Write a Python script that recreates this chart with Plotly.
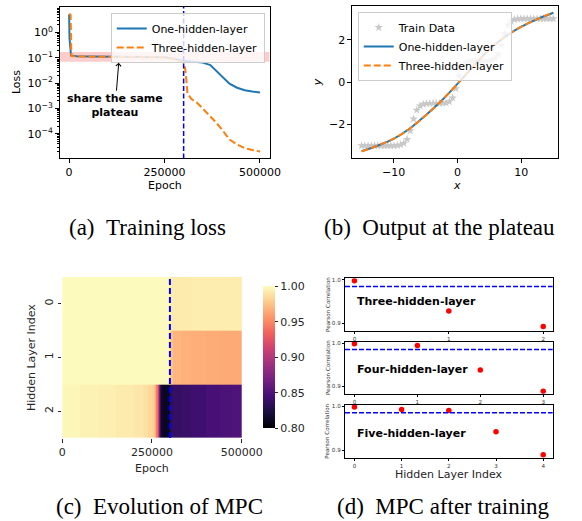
import plotly.graph_objects as go

# ---------------- (a) Training loss ----------------
epochs_one = [0, 1000, 5000, 20000, 60000, 100000, 150000, 200000, 250000, 270000, 290000,
              300000, 320000, 350000, 370000, 385000, 400000, 420000, 440000, 460000, 480000, 500000]
loss_one = [5.2, 0.6, 0.125, 0.115, 0.113, 0.112, 0.111, 0.109, 0.105, 0.095, 0.082,
            0.077, 0.072, 0.065, 0.052, 0.032, 0.018, 0.0095, 0.0066, 0.0053, 0.0047, 0.0043]
epochs_three = [0, 4000, 6000, 20000, 60000, 100000, 150000, 200000, 250000, 270000, 280000,
                290000, 300000, 305000, 310000, 320000, 335000, 350000, 370000, 385000, 400000,
                420000, 440000, 460000, 480000, 500000]
loss_three = [5.5, 5.0, 0.12, 0.113, 0.112, 0.111, 0.11, 0.108, 0.104, 0.093, 0.083,
              0.075, 0.068, 0.03, 0.004, 0.0024, 0.0017, 0.001, 0.0005, 0.00028, 0.00015,
              0.00006, 0.000038, 0.000027, 0.000023, 0.00002]
plateau_band = [0.07, 0.17]
plateau_epoch = 300000
loss_ticks = [1, 0.1, 0.01, 0.001, 0.0001]
loss_ticktext = ["10<sup>0</sup>", "10<sup>\u22121</sup>", "10<sup>\u22122</sup>",
                 "10<sup>\u22123</sup>", "10<sup>\u22124</sup>"]
epoch_ticks = [0, 250000, 500000]
epoch_ticktext = ["0", "250000", "500000"]

# ---------------- (b) Output at the plateau ----------------
train_x = [-15.0, -14.49, -13.98, -13.47, -12.97, -12.46, -11.95, -11.44, -10.93, -10.42,
           -9.92, -9.41, -8.90, -8.39, -7.88, -7.37, -6.86, -6.36, -5.85, -5.34,
           -4.83, -4.32, -3.81, -3.31, -2.80, -2.29, -1.78, -1.27, -0.76, -0.25,
           0.25, 0.76, 1.27, 1.78, 2.29, 2.80, 3.31, 3.81, 4.32, 4.83,
           5.34, 5.85, 6.36, 6.86, 7.37, 7.88, 8.39, 8.90, 9.41, 9.92,
           10.42, 10.93, 11.44, 11.95, 12.46, 12.97, 13.47, 13.98, 14.49, 15.0]
train_y = [-3.0, -3.0, -3.0, -3.0, -3.0, -3.0, -3.0, -3.0, -3.0, -3.0,
           -3.0, -2.99, -2.96, -2.89, -2.70, -2.29, -1.74, -1.32, -1.12, -1.04,
           -1.01, -1.0, -1.0, -1.0, -1.0, -0.99, -0.98, -0.92, -0.74, -0.30,
           0.30, 0.74, 0.92, 0.98, 0.99, 1.0, 1.0, 1.0, 1.0, 1.01,
           1.04, 1.12, 1.32, 1.74, 2.29, 2.70, 2.89, 2.96, 2.99, 3.0,
           3.0, 3.0, 3.0, 3.0, 3.0, 3.0, 3.0, 3.0, 3.0, 3.0]
fit_x = [-15, -12.5, -10, -7.5, -5, -2.5, 0, 2.5, 5, 7.5, 10, 12.5, 15]
fit_one = [-3.26, -3.0, -2.68, -2.2, -1.57, -0.88, -0.08, 0.75, 1.55, 2.15, 2.62, 2.98, 3.28]
fit_three = [-3.27, -3.0, -2.67, -2.2, -1.58, -0.88, -0.08, 0.76, 1.56, 2.16, 2.62, 2.98, 3.29]

# ---------------- (c) Evolution of MPC ----------------
hm_edges = [0, 50000, 100000, 150000, 200000, 225000, 240000, 250000, 255000, 260000, 263000,
            266000, 269000, 272000, 276000, 280000, 290000, 300000, 310000, 330000, 360000,
            400000, 440000, 470000, 500000]
mpc_layer0 = [0.999, 0.999, 0.999, 0.999, 0.999, 0.999, 0.999, 0.999, 0.999, 0.999, 0.999,
              0.999, 0.999, 0.999, 0.999, 0.999, 0.999, 0.992, 0.992, 0.992, 0.993, 0.993,
              0.993, 0.993]
mpc_layer1 = [0.999, 0.999, 0.999, 0.999, 0.999, 0.999, 0.999, 0.999, 0.999, 0.999, 0.999,
              0.999, 0.999, 0.999, 0.999, 0.999, 0.999, 0.974, 0.969, 0.967, 0.966, 0.965,
              0.964, 0.964]
mpc_layer2 = [0.997, 0.995, 0.994, 0.992, 0.99, 0.987, 0.984, 0.98, 0.975, 0.965, 0.94,
              0.905, 0.86, 0.83, 0.815, 0.81, 0.81, 0.835, 0.837, 0.839, 0.842, 0.846,
              0.848, 0.85]
layer_ticks = [0, 1, 2]
cbar_ticks = [0.80, 0.85, 0.90, 0.95, 1.00]
cbar_ticktext = ["0.80", "0.85", "0.90", "0.95", "1.00"]

# ---------------- (d) MPC after training ----------------
layers3 = [0, 1, 2]
mpc3 = [0.998, 0.928, 0.892]
layers4 = [0, 1, 2, 3]
mpc4 = [0.998, 0.994, 0.938, 0.889]
layers5 = [0, 1, 2, 3, 4]
mpc5 = [0.998, 0.992, 0.990, 0.942, 0.890]
mpc_threshold = 0.985
d_titles = ["Three-hidden-layer", "Four-hidden-layer", "Five-hidden-layer"]

W, H = 582, 521
def px(x):
    return x / W
def py(y):
    return 1 - y / H

BLUE = "#1f77b4"
ORANGE = "#ff7f0e"
FONT = "DejaVu Sans"
tickfont = dict(family=FONT, size=11, color="black")

fig = go.Figure()

# (a)
fig.add_trace(go.Scatter(x=[-25000, 525000, 525000, -25000], y=[plateau_band[0], plateau_band[0], plateau_band[1], plateau_band[1]],
                         fill="toself", fillcolor="rgba(255,0,0,0.2)", line=dict(width=0), mode="lines",
                         showlegend=False, hoverinfo="skip", xaxis="x", yaxis="y"))
fig.add_trace(go.Scatter(x=epochs_one, y=loss_one, mode="lines", name="One-hidden-layer",
                         line=dict(color=BLUE, width=2), xaxis="x", yaxis="y", legend="legend"))
fig.add_trace(go.Scatter(x=epochs_three, y=loss_three, mode="lines", name="Three-hidden-layer",
                         line=dict(color=ORANGE, width=2, dash="7px,3px"), xaxis="x", yaxis="y", legend="legend"))

# (b)
fig.add_trace(go.Scatter(x=train_x, y=train_y, mode="markers", name="Train Data",
                         marker=dict(symbol="star", size=6.5, color="#c8c8c8", line=dict(width=0)),
                         xaxis="x2", yaxis="y2", legend="legend2"))
fig.add_trace(go.Scatter(x=fit_x, y=fit_one, mode="lines", name="One-hidden-layer", line_shape="spline",
                         line=dict(color=BLUE, width=2), xaxis="x2", yaxis="y2", legend="legend2"))
fig.add_trace(go.Scatter(x=fit_x, y=fit_three, mode="lines", name="Three-hidden-layer", line_shape="spline",
                         line=dict(color=ORANGE, width=2, dash="7px,3px"), xaxis="x2", yaxis="y2", legend="legend2"))

# (c)
fig.add_trace(go.Heatmap(x=hm_edges, y=layer_ticks, z=[mpc_layer0, mpc_layer1, mpc_layer2],
                         colorscale="Magma", zmin=0.8, zmax=1.0, xaxis="x3", yaxis="y3", showscale=True,
                         colorbar=dict(x=px(261), xanchor="left", y=py(356.7), yanchor="middle",
                                       len=162, lenmode="pixels", thickness=11.7, thicknessmode="pixels",
                                       outlinewidth=0, ticks="outside", ticklen=3.5, tickcolor="#262626",
                                       tickvals=cbar_ticks, ticktext=cbar_ticktext,
                                       tickfont=dict(family=FONT, size=11, color="#262626"))))

# (d)
for i, (lx, ly) in enumerate([(layers3, mpc3), (layers4, mpc4), (layers5, mpc5)]):
    fig.add_trace(go.Scatter(x=lx, y=ly, mode="markers", marker=dict(color="red", size=5.5),
                             showlegend=False, xaxis=f"x{4+i}", yaxis=f"y{4+i}"))

def framed(**kw):
    d = dict(showline=True, linecolor="black", linewidth=1, mirror=True, ticks="outside",
             ticklen=3.5, tickwidth=1, tickcolor="black", showgrid=False, zeroline=False,
             tickfont=tickfont)
    d.update(kw)
    return d

minor_loss = [m * 10 ** e for e in range(-5, 1) for m in range(2, 10)]

layout = dict(
    width=W, height=H, margin=dict(l=0, r=0, t=0, b=0), plot_bgcolor="white", paper_bgcolor="white",
    font=dict(family=FONT, size=11, color="black"),
    xaxis=framed(domain=[px(59), px(278)], range=[-25000, 525000], tickvals=epoch_ticks,
                 ticktext=epoch_ticktext, anchor="y"),
    yaxis=framed(domain=[py(157), py(5)], type="log", range=[-4.97, 1.01], tickvals=loss_ticks,
                 ticktext=loss_ticktext, anchor="x",
                 minor=dict(tickvals=minor_loss, ticks="outside", ticklen=2, tickcolor="black", showgrid=False)),
    xaxis2=framed(domain=[px(364), px(579)], range=[-16.5, 15.75], tickvals=[-10, 0, 10],
                  ticktext=["\u221210", "0", "10"], anchor="y2"),
    yaxis2=framed(domain=[py(157), py(4)], range=[-3.6, 3.6], tickvals=[-2, 0, 2],
                  ticktext=["\u22122", "0", "2"], anchor="x2"),
    xaxis3=dict(domain=[px(61.7), px(249)], range=[0, 500000], tickvals=epoch_ticks, ticktext=epoch_ticktext,
                ticks="outside", ticklen=3.5, tickcolor="#262626", showgrid=False, zeroline=False,
                showline=False, anchor="y3", tickfont=dict(family=FONT, size=11, color="#262626")),
    yaxis3=dict(domain=[py(437.7), py(275.7)], range=[2.5, -0.5], tickvals=layer_ticks,
                ticktext=[str(v) for v in layer_ticks], tickangle=-90,
                ticks="outside", ticklen=3.5, tickcolor="#262626", showgrid=False, zeroline=False,
                showline=False, anchor="x3", tickfont=dict(family=FONT, size=11, color="#262626")),
    legend=dict(x=px(273), xanchor="right", y=py(11), yanchor="top", bgcolor="rgba(255,255,255,0.8)",
                bordercolor="#cccccc", borderwidth=1, font=dict(family=FONT, size=11, color="black"),
                tracegroupgap=0),
    legend2=dict(x=px(370), xanchor="left", y=py(10), yanchor="top", bgcolor="rgba(255,255,255,0.8)",
                 bordercolor="#cccccc", borderwidth=1, font=dict(family=FONT, size=11, color="black"),
                 tracegroupgap=0),
)

d_boxes = [(277.3, 330.3, [-0.1, 2.1], [0.8815, 1.004], layers3),
           (341.0, 393.3, [-0.15, 3.15], [0.8833, 1.003], layers4),
           (404.3, 457.7, [-0.2, 4.2], [0.8826, 1.003], layers5)]
small = dict(family=FONT, size=5.6, color="#333333")
for i, (top, bot, xr, yr, lx) in enumerate(d_boxes):
    n = 4 + i
    layout[f"xaxis{n}"] = framed(domain=[px(356.7), px(573.3)], range=xr, tickvals=lx,
                                 ticktext=[str(v) for v in lx], anchor=f"y{n}", ticklen=2,
                                 tickfont=small, linewidth=1.2)
    layout[f"yaxis{n}"] = framed(domain=[py(bot), py(top)], range=yr, tickvals=[0.9, 1.0],
                                 ticktext=["0.9", "1.0"], anchor=f"x{n}", ticklen=2,
                                 tickfont=small, linewidth=1.2)

fig.update_layout(**layout)

shapes = [
    dict(type="line", xref="x", yref="y domain", x0=plateau_epoch, x1=plateau_epoch, y0=0, y1=1,
         line=dict(color="blue", width=1.5, dash="5px,2.5px")),
    dict(type="line", xref="x3", yref="y3 domain", x0=plateau_epoch, x1=plateau_epoch, y0=0, y1=1,
         line=dict(color="blue", width=2, dash="6px,3px")),
]
for i in range(3):
    n = 4 + i
    shapes.append(dict(type="line", xref=f"x{n} domain", yref=f"y{n}", x0=0, x1=1,
                       y0=mpc_threshold, y1=mpc_threshold, line=dict(color="blue", width=1.5, dash="5px,2px")))
fig.update_layout(shapes=shapes)

ann = []
def text(x, y, s, size=11, angle=0, family=FONT, color="black", xanchor="center"):
    ann.append(dict(x=px(x), y=py(y), xref="paper", yref="paper", text=s, showarrow=False,
                    textangle=angle, xanchor=xanchor, yanchor="middle",
                    font=dict(family=family, size=size, color=color)))

# axis titles
text(14, 80, "Loss", angle=-90)
text(169, 184, "Epoch")
text(328, 80, "<i>y</i>", angle=-90)
text(474, 184, "<i>x</i>")
text(30, 356.7, "Hidden Layer Index", angle=-90, color="#262626")
text(155.5, 468, "Epoch", color="#262626")
text(465, 474.3, "Hidden Layer Index", color="#262626")
for top, bot in [(277.3, 330.3), (341.0, 393.3), (404.3, 457.7)]:
    text(338.3, (top + bot) / 2, "Pearson Correlation", size=5.6, angle=-90, color="#333333")
# subplot (d) inner titles
for s, yc in zip(d_titles, [301, 369.3, 432.7]):
    text(366.7, yc, "<b>" + s + "</b>", size=11, xanchor="left")
# annotation with arrow in (a)
ann.append(dict(x=130000, y=-1.19, xref="x", yref="y", text="<b>share the same<br>plateau</b>",
                showarrow=True, ax=-3.5, ay=43, arrowhead=4, arrowsize=1, arrowwidth=1,
                arrowcolor="black", font=dict(family=FONT, size=11, color="black")))
# captions
SERIF = "Liberation Serif"
text(151, 226, "(a)\u2002Training loss", size=23, family=SERIF)
text(455, 226, "(b)\u2002Output at the plateau", size=23, family=SERIF)
text(163, 506, "(c)\u2002Evolution of MPC", size=23, family=SERIF)
text(459, 506, "(d)\u2002MPC after training", size=23, family=SERIF)

fig.update_layout(annotations=ann)
fig.write_html("out.html")
